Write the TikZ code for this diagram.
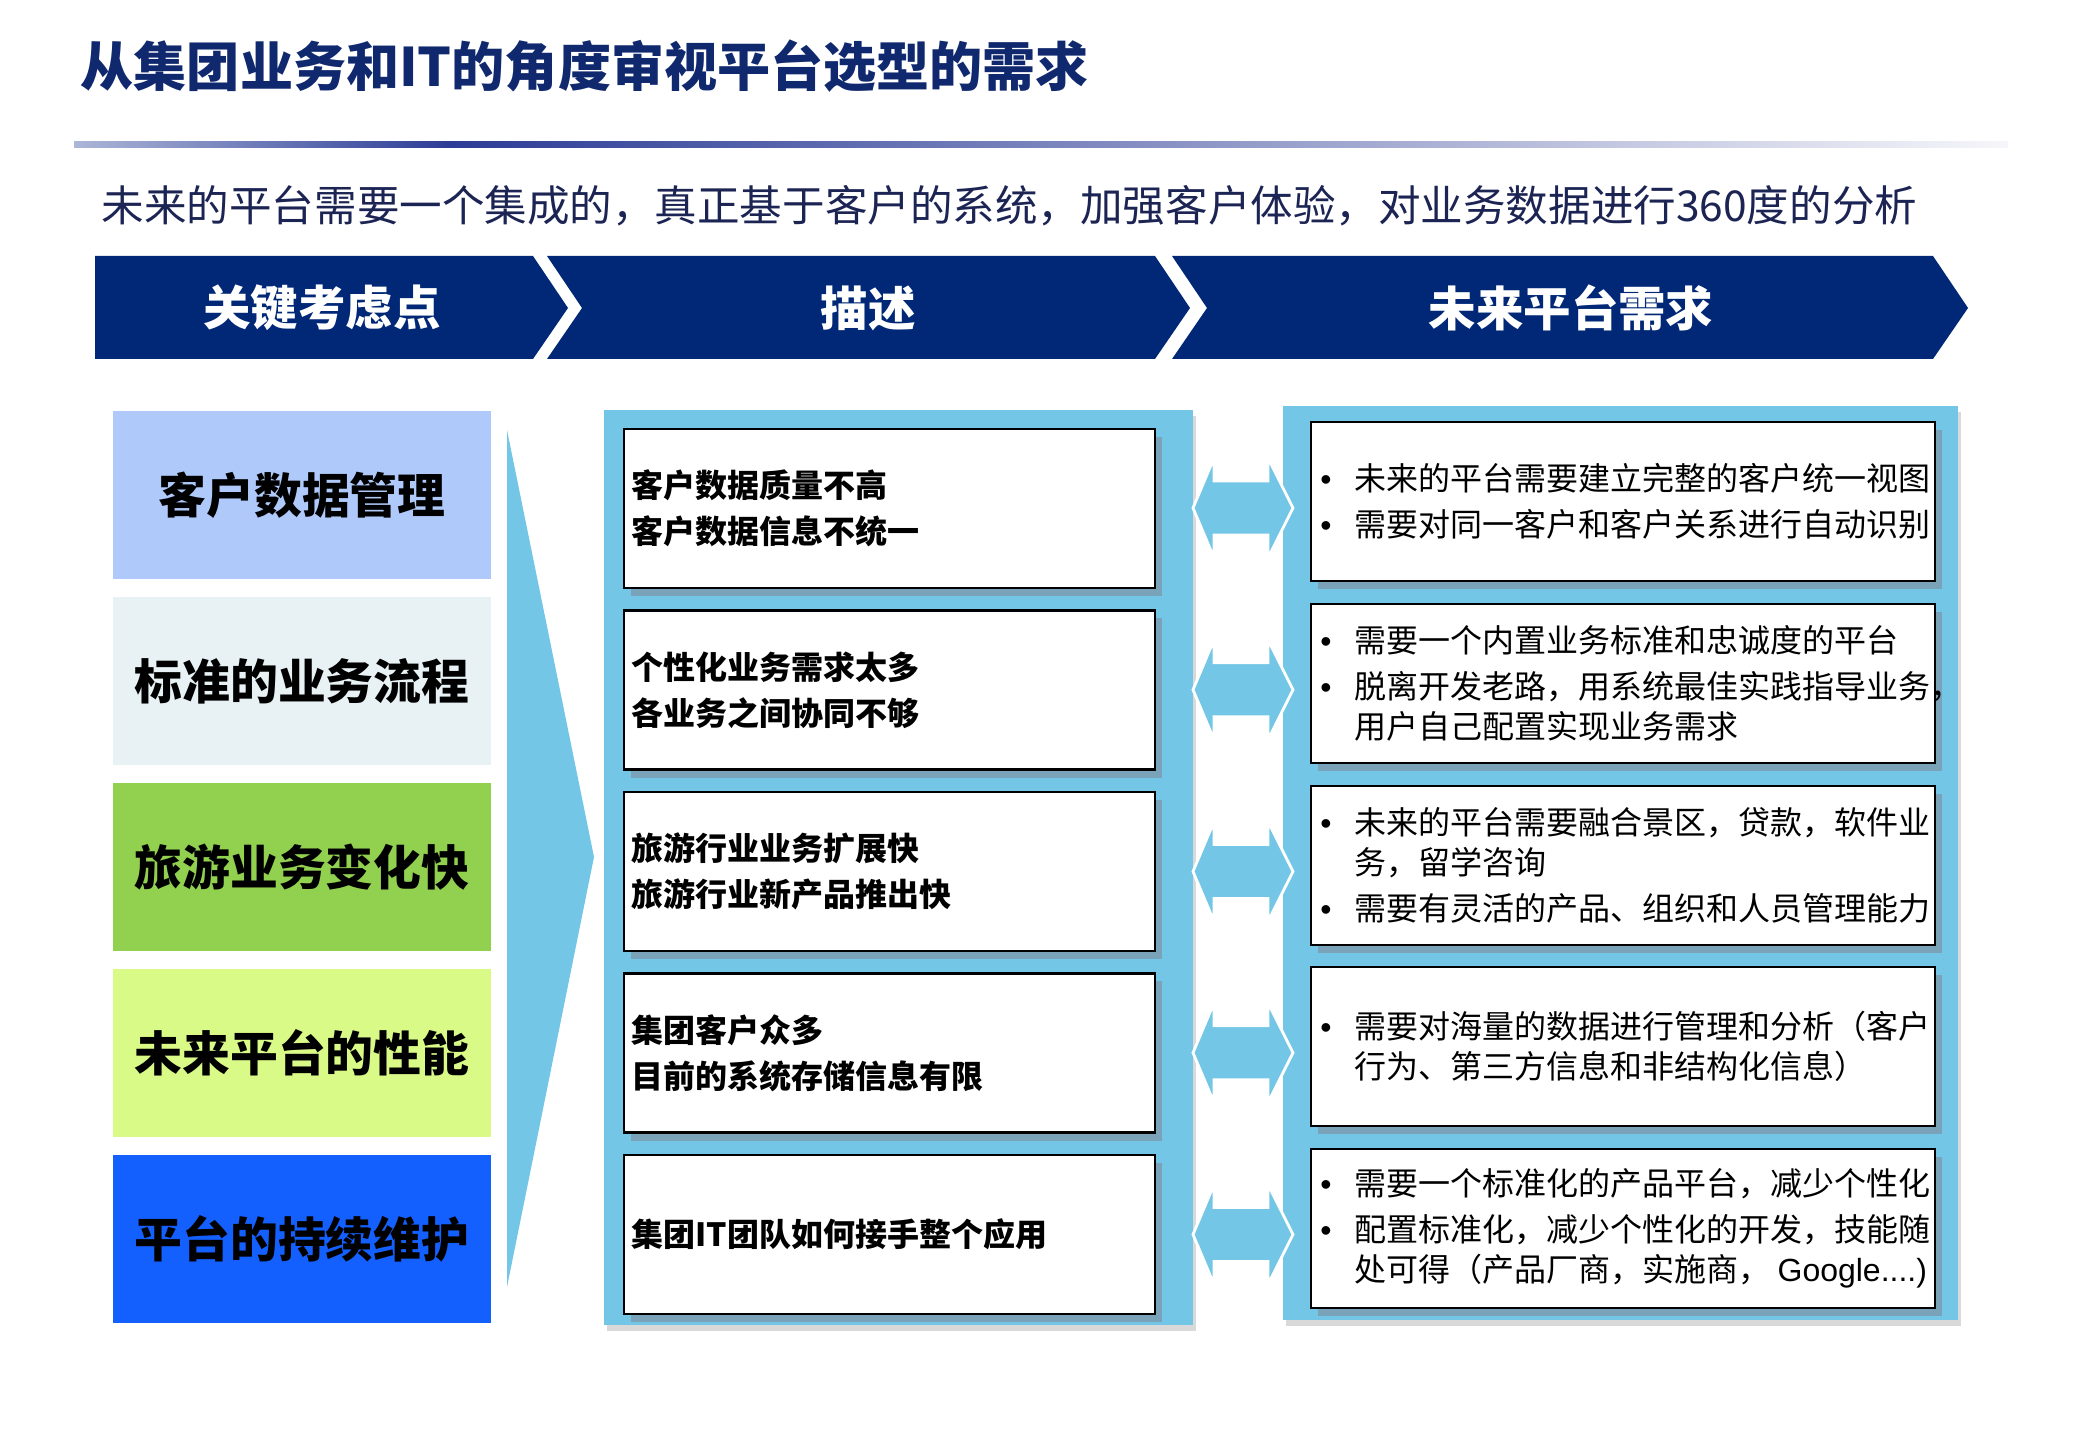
\documentclass[tikz,border=0pt]{standalone}
\usepackage{fontspec}
\setmainfont{Noto Sans CJK SC}
\newfontfamily\latinfont{Liberation Sans}
\usetikzlibrary{positioning,calc,shadows}
\definecolor{HeadNavy}{RGB}{0,40,118}
\definecolor{TitleNavy}{RGB}{16,40,110}
\definecolor{SubNavy}{RGB}{28,36,84}
\definecolor{PanelBlue}{RGB}{115,198,230}
\definecolor{BoxShadow}{RGB}{122,162,184}
\definecolor{KeyA}{RGB}{175,202,250}
\definecolor{KeyB}{RGB}{232,242,245}
\definecolor{KeyC}{RGB}{146,208,80}
\definecolor{KeyD}{RGB}{218,250,136}
\definecolor{KeyE}{RGB}{20,96,255}
\definecolor{LineL}{RGB}{172,182,216}
\definecolor{LineM}{RGB}{44,60,150}
\definecolor{LineR}{RGB}{246,246,250}
\newcommand{\itemdot}{\makebox[1.06em][l]{{\latinfont •}}}
\newcommand{\itemskip}{\hspace*{1.06em}}

\begin{document}
\begin{tikzpicture}[x=0.01cm,y=-0.01cm,
  hd/.style={fill=HeadNavy},
  hdtxt/.style={text=white,inner sep=0,font=\fontsize{13.5}{16}\selectfont\bfseries},
  key/.style={minimum width=3.77cm,minimum height=1.68cm,inner sep=0,font=\fontsize{13.6}{16}\selectfont\bfseries},
  panel/.style={fill=PanelBlue,drop shadow={shadow xshift=0.3mm,shadow yshift=-0.6mm,opacity=0.3}},
  dbox/.style={draw=black,line width=0.6pt,fill=white,minimum width=5.31cm,minimum height=1.59cm,inner sep=0,drop shadow={shadow xshift=0.7mm,shadow yshift=-0.8mm,fill=BoxShadow,opacity=1}},
  rbox/.style={dbox,minimum width=6.24cm},
  dtxt/.style={inner sep=0,align=left,font=\fontsize{9.1}{13.1}\selectfont\bfseries},
  rtxt/.style={inner sep=0,align=left,font=\fontsize{9.1}{11.4}\selectfont},
  dblarr/.style={fill=PanelBlue,draw=white,line width=0.8pt}
]
  \useasboundingbox (0,0) rectangle (2079,1440);
  \node[anchor=west,inner sep=0,text=TitleNavy,font=\fontsize{15.1}{18}\selectfont\bfseries] (title) at (80,66) {从集团业务和IT的角度审视平台选型的需求};
  \shade[left color=LineL,right color=LineM] (74,142) rectangle (450,148);
  \shade[left color=LineM,right color=LineR] (450,142) rectangle (2008,148);
  \node[anchor=west,inner sep=0,text=SubNavy,font=\fontsize{12.1}{15}\selectfont] (sub) at (101,206) {未来的平台需要一个集成的，真正基于客户的系统，加强客户体验，对业务数据进行360度的分析};

  \fill[hd] (95,256) -- (533,256) -- (568,308) -- (533,359) -- (95,359) -- cycle;
  \fill[hd] (547,256) -- (1155,256) -- (1190,308) -- (1155,359) -- (547,359) -- (582,308) -- cycle;
  \fill[hd] (1172,256) -- (1933,256) -- (1968,308) -- (1933,359) -- (1172,359) -- (1207,308) -- cycle;
  \node[hdtxt] (h1) at (322,308) {关键考虑点};
  \node[hdtxt] (h2) at (868,308) {描述};
  \node[hdtxt] (h3) at (1571,308) {未来平台需求};

  \node[key,fill=KeyA] (k1) at (302,495) {客户数据管理};
  \node[key,fill=KeyB] (k2) at (302,681) {标准的业务流程};
  \node[key,fill=KeyC] (k3) at (302,867) {旅游业务变化快};
  \node[key,fill=KeyD] (k4) at (302,1053) {未来平台的性能};
  \node[key,fill=KeyE] (k5) at (302,1239) {平台的持续维护};

  \fill[PanelBlue] (507,430) -- (594,857) -- (507,1287) -- cycle;
  \fill[panel] (604,410) rectangle (1193,1325);
  \fill[panel] (1283,406) rectangle (1958,1320);

  \node[dbox] (d1) at (889.5,508.5) {};
  \node[dbox] (d2) at (889.5,690) {};
  \node[dbox] (d3) at (889.5,871.5) {};
  \node[dbox] (d4) at (889.5,1053) {};
  \node[dbox] (d5) at (889.5,1234.5) {};
  \node[dtxt,right=0.08cm of d1.west] {客户数据质量不高\\客户数据信息不统一};
  \node[dtxt,right=0.08cm of d2.west] {个性化业务需求太多\\各业务之间协同不够};
  \node[dtxt,right=0.08cm of d3.west] {旅游行业业务扩展快\\旅游行业新产品推出快};
  \node[dtxt,right=0.08cm of d4.west] {集团客户众多\\目前的系统存储信息有限};
  \node[dtxt,right=0.08cm of d5.west] {集团IT团队如何接手整个应用};

  \node[rbox] (r1) at (1623,501.5) {};
  \node[rbox] (r2) at (1623,683.5) {};
  \node[rbox] (r3) at (1623,865.5) {};
  \node[rbox] (r4) at (1623,1046.5) {};
  \node[rbox] (r5) at (1623,1228.5) {};
  \node[rtxt,right=0.1cm of r1.west] {\itemdot 未来的平台需要建立完整的客户统一视图\\[1.7pt]\itemdot 需要对同一客户和客户关系进行自动识别};
  \node[rtxt,right=0.1cm of r2.west] {\itemdot 需要一个内置业务标准和忠诚度的平台\\[1.7pt]\itemdot 脱离开发老路，用系统最佳实践指导业务，\\\itemskip 用户自己配置实现业务需求};
  \node[rtxt,right=0.1cm of r3.west] {\itemdot 未来的平台需要融合景区，贷款，软件业\\\itemskip 务，留学咨询\\[1.7pt]\itemdot 需要有灵活的产品、组织和人员管理能力};
  \node[rtxt,right=0.1cm of r4.west] {\itemdot 需要对海量的数据进行管理和分析（客户\\\itemskip 行为、第三方信息和非结构化信息）};
  \node[rtxt,right=0.1cm of r5.west] {\itemdot 需要一个标准化的产品平台，减少个性化\\[1.7pt]\itemdot 配置标准化，减少个性化的开发，技能随\\\itemskip 处可得（产品厂商，实施商， {\latinfont Google....)}};

  \foreach \i in {1,...,5}
    \draw[dblarr] ($(d\i.east)!.5!(r\i.west)+(-40,3)$) -- ++(21,-50) -- ++(0,23) -- ++(54,0) -- ++(0,-23) -- ++(25,50) -- ++(-25,50) -- ++(0,-23) -- ++(-54,0) -- ++(0,23) -- cycle;
\end{tikzpicture}
\end{document}
